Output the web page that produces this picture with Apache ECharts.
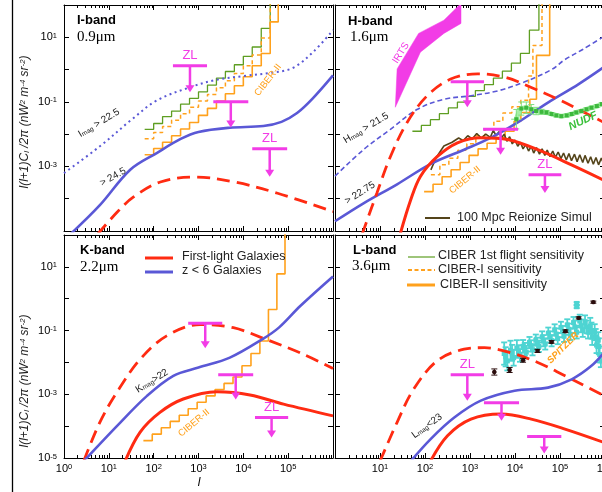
<!DOCTYPE html>
<html><head><meta charset="utf-8">
<script src="https://cdn.jsdelivr.net/npm/echarts/dist/echarts.min.js"></script>
<style>html,body{margin:0;padding:0;background:#fff;overflow:hidden}#c{width:602px;height:492px}</style>
</head><body><div id="c"></div><script>
// ---------------- DATA (x = multipole l, y = l(l+1)C_l/2pi) ----------------
// I-band 0.9um
const iZ6Shallow = [[1,6.2e-4],[6.3,4.2e-3],[32,2.8e-2],[117,0.11],[630,0.28],[2500,0.48],[1e4,0.63],[4.0e4,0.79],[1.26e5,1.12],[3.6e5,3.5],[1e6,16.6]];
const iZ6Deep = [[1.4,8e-6],[6.3,6.3e-5],[30,7.9e-4],[117,2.6e-3],[400,7.1e-3],[1000,1.17e-2],[5000,1.58e-2],[2.8e4,1.78e-2],[7.1e4,2.4e-2],[1.58e5,4.5e-2],[3.5e5,0.126],[1e6,0.66]];
const iFirstLightDashed = [[5.6,7.9e-6],[15.8,4e-5],[35,1.12e-4],[141,3.3e-4],[800,4.7e-4],[6300,3.3e-4],[5.8e4,1.48e-4],[1e6,4e-5]];
const iCiber1st = [[63,1.41e-2],[100,2.14e-2],[158,3.5e-2],[251,5.2e-2],[398,8.5e-2],[631,0.129],[1000,0.204],[1585,0.33],[2512,0.54],[3981,0.87],[6310,1.41],[1e4,2.57],[1.58e4,5.0],[2.51e4,19],[3.98e4,1e3]];
const iCiberI = [[63,7.2e-3],[100,1.12e-2],[158,1.74e-2],[251,2.7e-2],[398,4.3e-2],[631,6.8e-2],[1000,0.107],[1585,0.17],[2512,0.275],[3981,0.447],[6310,0.76],[1e4,1.32],[1.58e4,2.82],[2.51e4,9.5],[3.98e4,1e3]];
const iCiberII = [[63,2.3e-3],[100,3.6e-3],[158,5.6e-3],[251,8.9e-3],[398,1.45e-2],[631,2.3e-2],[1000,3.8e-2],[1585,6.3e-2],[2512,0.105],[3981,0.178],[6310,0.316],[1e4,0.6],[1.58e4,1.32],[2.51e4,3.16],[3.98e4,30],[6.0e4,1e3]];
// ZL limits: [l_left, level, l_right, arrow_end, show_label]
const iZL = [[269,1.32,1549,0.2,1],[2138,0.1,1.29e4,1.62e-2,0],[1.58e4,3.5e-3,9.5e4,4.8e-4,1]];

// H-band 1.6um
const hZ6Shallow = [[1,5e-4],[4.3,3.3e-3],[17,1.41e-2],[68,5.9e-2],[263,0.12],[1050,0.155],[4200,0.22],[1.6e4,0.41],[6.5e4,1.0],[1.26e5,2.0],[3.2e5,4.2],[1e6,11.2]];
const hZ6Deep = [[1,2.0e-5],[4.3,7.2e-5],[24,2.8e-4],[135,1.2e-3],[740,3.3e-3],[2950,7.8e-3],[1.15e4,2.3e-2],[5.4e4,9.5e-2],[2.6e5,0.355],[1e6,1.26]];
const hFirstLightDashed = [[4.0,7.9e-6],[8.5,1.48e-4],[17,2.0e-3],[40,2.3e-2],[112,0.155],[372,0.51],[1480,0.74],[5900,0.58],[2.3e4,0.28],[9.1e4,0.12],[3.5e5,4.7e-2],[1e6,2.2e-2]];
const hFirstLight = [[28,7.9e-6],[48,9.1e-5],[79,4.9e-4],[186,2.0e-3],[525,5.4e-3],[1740,7.8e-3],[6900,6.8e-3],[3.2e4,3.3e-3],[1.8e5,1.12e-3],[1e6,3.6e-4]];
const hCiber1st = [[52.5,1.23e-2],[83,1.86e-2],[132,2.8e-2],[209,4.3e-2],[331,6.5e-2],[525,9.8e-2],[832,0.148],[1318,0.224],[2089,0.34],[3311,0.54],[5248,0.89],[8318,1.58],[1.32e4,3.16],[2.09e4,16.6],[3.4e4,1e3]];
const hCiberI = [[135,5.5e-4],[214,1.12e-3],[339,1.78e-3],[537,3.16e-3],[851,5.0e-3],[1349,8.9e-3],[2138,1.41e-2],[3388,2.5e-2],[5370,4.5e-2],[8511,7.1e-2],[1.35e4,0.112],[2.0e4,0.63],[2.5e4,5.6],[3.98e4,1e3]];
const hCiberII = [[95.5,1.66e-4],[151,2.8e-4],[240,4.8e-4],[380,7.9e-4],[603,1.32e-3],[955,2.2e-3],[1514,3.5e-3],[2399,5.2e-3],[3802,7.9e-3],[6026,1.23e-2],[9550,2.5e-2],[1.35e4,4.7e-2],[2.14e4,0.12],[3.0e4,2.75],[5.9e4,1e3]];
const hReionSim = [[135,7.8e-4],[178,1.9e-3],[263,4.3e-3],[400,5.6e-3],[560,7.6e-3],[710,6.3e-3],[890,8.9e-3],[1120,7.1e-3],[1410,1.05e-2],[1780,7.6e-3],[2240,1.0e-2],[2820,7.9e-3],[3300,1.32e-2],[3800,8.9e-3],[4400,1.2e-2],[5000,7.6e-3],[5750,1.0e-2],[6600,6.0e-3],[7600,8.3e-3],[8700,5.0e-3],[1.0e4,6.6e-3],[1.15e4,4.2e-3],[1.32e4,5.6e-3],[1.51e4,3.5e-3],[1.74e4,4.8e-3],[2.0e4,3.0e-3],[2.3e4,4.2e-3],[2.6e4,2.6e-3],[3.0e4,3.8e-3],[3.5e4,2.4e-3],[4.0e4,3.5e-3],[4.6e4,2.2e-3],[5.2e4,3.2e-3],[6.0e4,2.0e-3],[6.9e4,3.0e-3],[7.9e4,1.9e-3],[9.1e4,2.8e-3],[1.05e5,1.74e-3],[1.2e5,2.6e-3],[1.38e5,1.58e-3],[1.58e5,2.5e-3],[1.8e5,1.5e-3],[2.1e5,2.4e-3],[2.4e5,1.41e-3],[2.75e5,2.3e-3],[3.2e5,1.32e-3],[3.6e5,2.2e-3],[4.2e5,1.26e-3],[4.8e5,2.0e-3],[5.5e5,1.17e-3],[6.3e5,1.9e-3],[7.2e5,1.12e-3],[8.3e5,1.82e-3],[9.5e5,1.1e-3]];
const hIRTS = [[21.9,6.8e-2],[24,1.05],[72,13.2],[263,33.9],[631,112],[631,26.9],[263,13.2],[79,3.47]];
// NUDF: [l, value, y error factor, l error factor]
const hNUDF = [[1.07e4,2.9e-2,2.0,1.3],[1.38e4,6.2e-2,1.6,1.25],[1.78e4,6.6e-2,1.5,1.2],[2.3e4,5.9e-2,1.4,1.15],[2.95e4,5.2e-2,1.3,1.12],[3.9e4,4.9e-2,1.2,1.1],[5.0e4,4.7e-2,1.15,1.08],[6.5e4,4.2e-2,1.1,1.06],[8.3e4,3.8e-2,1.1,1.06],[1.07e5,3.6e-2,1.1,1.06],[1.41e5,3.8e-2,1.1,1.06],[1.82e5,4.2e-2,1.1,1.06],[2.3e5,4.7e-2,1.1,1.06],[3.0e5,5.2e-2,1.1,1.06],[3.9e5,5.9e-2,1.1,1.06],[5.0e5,6.6e-2,1.1,1.06],[6.6e5,7.4e-2,1.1,1.06],[8.5e5,8.5e-2,1.1,1.06]];
const hZL = [[372,0.417,2042,6.8e-2,0],[1950,1.41e-2,1.17e4,2.3e-3,0],[2.0e4,5.5e-4,1.07e5,1.5e-4,1]];

// K-band 2.2um
const kFirstLightDashed = [[2.75,7.9e-6],[6.3,1.32e-4],[15.1,1.15e-3],[50,1.26e-2],[195,6.8e-2],[1100,0.155],[6000,0.123],[3.3e4,5.2e-2],[1.86e5,2.0e-2],[1e6,6.5e-3]];
const kZ6 = [[2.75,7.9e-6],[15.1,1.0e-4],[71,8.9e-4],[275,3.8e-3],[1000,6.9e-3],[5000,1.41e-2],[2.8e4,5.6e-2],[6.3e4,0.126],[1.86e5,0.59],[1e6,5.0]];
const kFirstLight = [[23,7.9e-6],[50,6.5e-5],[138,2.7e-4],[457,7.1e-4],[2570,1.2e-3],[1.41e4,9.5e-4],[7.9e4,4.9e-4],[1e6,2.1e-4]];
const kCiberII = [[59,3.5e-5],[93,5.6e-5],[148,8.9e-5],[234,1.41e-4],[372,2.2e-4],[589,3.5e-4],[933,5.6e-4],[1479,8.9e-4],[2344,1.41e-3],[3715,2.2e-3],[5888,3.5e-3],[9333,7.9e-3],[1.48e4,1.9e-2],[2.34e4,4.7e-2],[3.63e4,0.457],[5.6e4,6.0],[8.5e4,1e3]];
const kZL = [[589,0.17,3388,2.8e-2,0],[2754,4.1e-3,1.66e4,6.8e-4,0],[1.82e4,1.86e-4,1e5,4.4e-5,1]];

// L-band 3.6um
const lFirstLightDashed = [[10,7.9e-6],[24,1.32e-4],[56,1.45e-3],[186,1.12e-2],[740,2.6e-2],[2090,2.9e-2],[8100,2.0e-2],[3.2e4,1.0e-2],[1.29e5,3.8e-3],[5.0e5,1.45e-3],[1e6,8.7e-4]];
const lZ6 = [[48,7.9e-6],[135,4.0e-5],[447,1.86e-4],[1740,6.3e-4],[9800,1.29e-3],[5.4e4,1.62e-3],[1.82e5,2.95e-3],[5.0e5,7.8e-3],[1e6,2.2e-2]];
const lFirstLight = [[132,7.9e-6],[316,5.0e-5],[1050,1.66e-4],[4900,2.4e-4],[2.3e4,1.66e-4],[1.29e5,8.1e-5],[1e6,3.0e-5]];
// Spitzer fluctuations: [l, value, error factor]
const lSpitzer = [[5750,1.9e-2,2.24],[6200,1.5e-2,2.0],[6760,1.12e-2,2.0],[7940,2.4e-2,2.0],[8600,2.0e-2,1.78],[9330,1.41e-2,1.78],[1.1e4,2.8e-2,1.78],[1.2e4,2.2e-2,1.58],[1.29e4,1.66e-2,1.58],[1.51e4,3.2e-2,1.58],[1.65e4,2.6e-2,1.58],[1.78e4,2.1e-2,1.58],[2.1e4,4.2e-2,1.5],[2.25e4,3.3e-2,1.5],[2.45e4,2.5e-2,1.5],[2.9e4,5.0e-2,1.5],[3.1e4,4.0e-2,1.5],[3.4e4,3.2e-2,1.5],[4.0e4,6.3e-2,1.5],[4.3e4,4.8e-2,1.5],[4.7e4,3.8e-2,1.5],[5.5e4,8.3e-2,1.5],[6.0e4,6.3e-2,1.5],[6.5e4,4.8e-2,1.5],[7.6e4,0.105,1.5],[8.2e4,7.8e-2,1.5],[8.9e4,5.6e-2,1.5],[1.05e5,0.126,1.5],[1.14e5,9.3e-2,1.5],[1.23e5,6.6e-2,1.5],[1.45e5,0.151,1.5],[1.57e5,0.11,1.5],[1.7e5,7.6e-2,1.5],[2.0e5,0.178,1.5],[2.15e5,0.13,1.58],[2.35e5,8.9e-2,1.58],[2.75e5,0.2,1.58],[2.95e5,0.14,1.58],[3.2e5,0.1,1.58],[3.6e5,0.19,1.58],[3.9e5,0.13,1.58],[4.2e5,8.9e-2,1.58],[4.7e5,0.141,1.78],[5.0e5,0.1,1.78],[5.2e5,6.3e-2,1.78],[5.9e5,8.9e-2,1.78],[6.2e5,6.3e-2,1.78],[6.5e5,3.5e-2,1.78],[7.1e5,5.0e-2,1.78],[7.3e5,3.2e-2,1.78],[7.6e5,1.78e-2,1.78],[8.1e5,1.12e-2,1.58],[2.35e5,0.71,1.1],[2.35e5,0.56,1.1]];
// black measured points: [l, value, error factor, l error factor]
const lPoints = [[3470,5.0e-3,1.25,1.12],[7590,5.8e-3,1.2,1.12],[1.51e4,1.17e-2,1.15,1.12],[3.16e4,2.3e-2,1.12,1.12],[6.5e4,4.4e-2,1.1,1.12],[1.32e5,9.5e-2,1.1,1.12],[2.6e5,0.25,1.08,1.12],[5.5e5,0.78,1.08,1.12]];
const lZL = [[372,4.1e-3,2042,6.3e-4,1],[2042,5.4e-4,1.23e4,1.48e-4,0],[1.86e4,4.7e-5,1.07e5,1.38e-5,0]];

// tick labels (exponents shown)
const xLabelExps = [[], [], [0,1,2,3,4,5], [1,2,3,4,5,6]];
const yLabelExps = [[1,-1,-3], [], [1,-1,-3,-5], []];

// ---------------- STYLE ----------------
const MAG='#f23ce6', RED='#ff2b12', BLUE='#5a58d6', GREEN='#5e9e22', ORANGE='#ffa11c', BROWN='#54441a', CYAN='#4ed4d2';
const FONT='"Liberation Sans", Arial, sans-serif';
const grids=[
  {left:64, top:5, width:269, height:226},
  {left:335, top:5, width:270, height:226},
  {left:64, top:235, width:269, height:223},
  {left:335, top:235, width:270, height:223}
].map(g=>Object.assign(g,{containLabel:false,outerBoundsMode:'none'}));
const supRich={s:{fontSize:7.5, fontFamily:FONT, color:'#000', verticalAlign:'top', lineHeight:9}};
function fmt(exps){return v=>{const e=Math.round(Math.log10(v));return exps.indexOf(e)>=0?('10{s|'+e+'}'):'';};}
const xAxes=[], yAxes=[];
grids.forEach((g,i)=>{
  const axLine={show:true,onZero:false,lineStyle:{color:'#000',width:1}};
  const tick={show:true,inside:true,length:5,lineStyle:{color:'#000',width:1}};
  const base={type:'log',logBase:10,gridIndex:i,interval:1,axisLine:axLine,axisTick:tick,splitLine:{show:false},minorTick:{show:false}};
  xAxes.push(Object.assign({},base,{position:'bottom',min:1,max:1e6,
    axisLabel:{show:xLabelExps[i].length>0,formatter:fmt(xLabelExps[i]),margin:5,color:'#000',fontSize:11,fontFamily:FONT,rich:supRich,showMinLabel:true,showMaxLabel:true,hideOverlap:false}}));
  xAxes.push(Object.assign({},base,{position:'top',min:1,max:1e6,axisLabel:{show:false}}));
  yAxes.push(Object.assign({},base,{position:'left',min:1e-5,max:1e2,
    axisLabel:{show:yLabelExps[i].length>0,formatter:fmt(yLabelExps[i]),margin:7,color:'#000',fontSize:11,fontFamily:FONT,rich:supRich,showMinLabel:true,showMaxLabel:true,hideOverlap:false}}));
  yAxes.push(Object.assign({},base,{position:'right',min:1e-5,max:1e2,axisLabel:{show:false}}));
});

function line(g,data,color,width,type,opts){
  return Object.assign({type:'line',xAxisIndex:2*g,yAxisIndex:2*g,data:data,symbol:'none',showSymbol:false,smooth:0.35,
    lineStyle:{color:color,width:width,type:type||'solid',cap:'butt'},silent:true,animation:false,z:3,clip:true},opts||{});
}
function step(g,data,color,width,type){
  return {type:'line',xAxisIndex:2*g,yAxisIndex:2*g,data:data,step:'end',symbol:'none',showSymbol:false,
    lineStyle:{color:color,width:width,type:type||'solid'},silent:true,animation:false,z:2,clip:true};
}
function zl(g,data){
  return {type:'custom',xAxisIndex:2*g,yAxisIndex:2*g,data:data,encode:{x:0,y:1},clip:false,silent:true,animation:false,z:6,
    renderItem:function(params,api){
      const l1=api.value(0),y=api.value(1),l2=api.value(2),y2=api.value(3),lab=api.value(4);
      const a=api.coord([l1,y]),b=api.coord([l2,y]);
      const lc=Math.sqrt(l1*l2);
      const cx=api.coord([lc,y])[0], ey=api.coord([lc,y2])[1];
      const ch=[
        {type:'line',shape:{x1:a[0],y1:a[1],x2:b[0],y2:b[1]},style:{stroke:MAG,lineWidth:3}},
        {type:'line',shape:{x1:cx,y1:a[1],x2:cx,y2:ey-6},style:{stroke:MAG,lineWidth:2.5}},
        {type:'polygon',shape:{points:[[cx-4.5,ey-7],[cx+4.5,ey-7],[cx,ey]]},style:{fill:MAG}}
      ];
      if(lab) ch.push({type:'text',x:cx,y:a[1]-10,style:{text:'ZL',fill:MAG,font:'13px '+FONT,align:'center',verticalAlign:'middle'}});
      return {type:'group',children:ch};
    }};
}
function errs(g,data,o){
  return {type:'custom',xAxisIndex:2*g,yAxisIndex:2*g,data:data,encode:{x:0,y:1},clip:true,silent:true,animation:false,z:o.z||4,
    renderItem:function(params,api){
      const l=api.value(0),v=api.value(1),f=api.value(2),fx=api.value(3);
      const p=api.coord([l,v]),hi=api.coord([l,v*f]),lo=api.coord([l,v/f]);
      const st={stroke:o.bar,lineWidth:o.bw||1};
      const ch=[
        {type:'line',shape:{x1:p[0],y1:hi[1],x2:p[0],y2:lo[1]},style:st},
        {type:'line',shape:{x1:p[0]-o.cap,y1:hi[1],x2:p[0]+o.cap,y2:hi[1]},style:st},
        {type:'line',shape:{x1:p[0]-o.cap,y1:lo[1],x2:p[0]+o.cap,y2:lo[1]},style:st}
      ];
      if(fx>1){const A=api.coord([l/fx,v]),B=api.coord([l*fx,v]);ch.push({type:'line',shape:{x1:A[0],y1:A[1],x2:B[0],y2:B[1]},style:st});}
      if(o.shape==='circle') ch.push({type:'circle',shape:{cx:p[0],cy:p[1],r:o.size},style:{fill:o.fill}});
      else ch.push({type:'rect',shape:{x:p[0]-o.size,y:p[1]-o.size,width:2*o.size,height:2*o.size},style:{fill:o.fill}});
      return {type:'group',children:ch};
    }};
}
function poly(g,pts,color){
  return {type:'custom',xAxisIndex:2*g,yAxisIndex:2*g,data:[pts[0]],encode:{x:0,y:1},clip:true,silent:true,animation:false,z:5,
    renderItem:function(params,api){
      return {type:'polygon',shape:{points:pts.map(p=>api.coord(p))},style:{fill:color,stroke:color,lineWidth:0.5}};
    }};
}
// log minor ticks on top/bottom of each panel
const minorX=[];for(let d=0;d<6;d++)for(let k=2;k<=9;k++)minorX.push(k*Math.pow(10,d));
function minors(g){
  return {type:'custom',xAxisIndex:2*g,yAxisIndex:2*g,data:[[1,1e-5]],encode:{x:0,y:1},clip:false,silent:true,animation:false,z:1,
    renderItem:function(params,api){
      const cs=params.coordSys;const ch=[];
      minorX.forEach(v=>{const x=Math.round(api.coord([v,1])[0])+0.5;
        ch.push({type:'line',shape:{x1:x,y1:cs.y+cs.height,x2:x,y2:cs.y+cs.height-3},style:{stroke:'#000',lineWidth:1}});
        ch.push({type:'line',shape:{x1:x,y1:cs.y,x2:x,y2:cs.y+3},style:{stroke:'#000',lineWidth:1}});});
      return {type:'group',children:ch};
    }};
}

const series=[];
for(let g=0;g<4;g++) series.push(minors(g));
// I-band
series.push(step(0,iCiber1st,GREEN,1.3));
series.push(step(0,iCiberI,ORANGE,1.5,[4,3]));
series.push(step(0,iCiberII,ORANGE,1.6));
series.push(line(0,iZ6Shallow,BLUE,2,[2,3.5]));
series.push(line(0,iZ6Deep,BLUE,2.6));
series.push(line(0,iFirstLightDashed,RED,2.8,[13,7]));
series.push(zl(0,iZL));
// H-band
series.push(step(1,hCiber1st,GREEN,1.3));
series.push(step(1,hCiberI,ORANGE,1.5,[4,3]));
series.push(step(1,hCiberII,ORANGE,1.6));
series.push(line(1,hReionSim,BROWN,1.6,'solid',{smooth:false,z:3}));
series.push(line(1,hNUDF.map(d=>[d[0],d[1]]),'#a6eea6',5,'solid',{smooth:0.3,z:3}));
series.push(errs(1,hNUDF,{bar:'#7fe07f',cap:3,fill:'#3cb83c',size:2,z:4}));
series.push(line(1,hZ6Shallow,BLUE,1.6,[5,3]));
series.push(line(1,hZ6Deep,BLUE,2.6));
series.push(line(1,hFirstLightDashed,RED,2.8,[13,7]));
series.push(line(1,hFirstLight,RED,3));
series.push(poly(1,hIRTS,MAG));
series.push(zl(1,hZL));
// K-band
series.push(step(2,kCiberII,ORANGE,1.6));
series.push(line(2,kFirstLightDashed,RED,2.8,[13,7]));
series.push(line(2,kZ6,BLUE,2.6));
series.push(line(2,kFirstLight,RED,3));
series.push(zl(2,kZL));
// L-band
series.push(errs(3,lSpitzer,{bar:CYAN,cap:3,fill:CYAN,size:2.5,bw:1.8,z:3}));
series.push(line(3,lFirstLightDashed,RED,2.8,[13,7]));
series.push(line(3,lZ6,BLUE,2.6));
series.push(line(3,lFirstLight,RED,3));
series.push(errs(3,lPoints,{bar:'#2a0c0c',cap:3,fill:'#2a0c0c',size:2.2,shape:'circle',z:5}));
series.push(zl(3,lZL));

const D=Math.PI/180;
function txt(x,y,text,o){
  o=o||{};
  return {type:'text',x:x,y:y,rotation:(o.rot||0)*D,z:50,silent:true,
    style:{text:text,fill:o.color||'#222',font:(o.weight||'')+' '+(o.style||'')+' '+(o.size||10)+'px '+(o.family||FONT),
      align:o.align||'center',verticalAlign:'middle',
      rich:{sub:{fontSize:(o.size||10)*0.65,fontFamily:o.family||FONT,fill:o.color||'#222',fontStyle:o.style||'normal',verticalAlign:'bottom'},
            sup:{fontSize:(o.size||10)*0.65,fontFamily:o.family||FONT,fill:o.color||'#222',fontStyle:o.style||'normal',verticalAlign:'top'}}}};
}
function seg(x1,y1,x2,y2,color,w,dash){
  return {type:'line',z:50,silent:true,shape:{x1:x1,y1:y1,x2:x2,y2:y2},style:{stroke:color,lineWidth:w,lineDash:dash||null}};
}
const ytitle='l(l+1)C{sub|l} /2π (nW{sup|2} m{sup|-4} sr{sup|-2})';
const graphics=[
  seg(12.5,0,12.5,492,'#000',1.3),
  txt(25,122,ytitle,{rot:90,style:'italic',size:12}),
  txt(25,381,ytitle,{rot:90,style:'italic',size:12}),
  txt(199,483,'l',{style:'italic',size:12,color:'#000'}),
  // panel labels
  txt(77,20,'I-band',{weight:'bold',size:13,align:'left',color:'#000'}),
  txt(77,37,'0.9μm',{size:15,align:'left',family:'"Liberation Serif", serif',color:'#000'}),
  txt(348,21,'H-band',{weight:'bold',size:13,align:'left',color:'#000'}),
  txt(350,37,'1.6μm',{size:15,align:'left',family:'"Liberation Serif", serif',color:'#000'}),
  txt(80,250,'K-band',{weight:'bold',size:13,align:'left',color:'#000'}),
  txt(80,267,'2.2μm',{size:15,align:'left',family:'"Liberation Serif", serif',color:'#000'}),
  txt(353,250,'L-band',{weight:'bold',size:13,align:'left',color:'#000'}),
  txt(352,266,'3.6μm',{size:15,align:'left',family:'"Liberation Serif", serif',color:'#000'}),
  // curve labels
  txt(99,123,'I{sub|mag} > 22.5',{rot:31}),
  txt(113,177,'> 24.5',{rot:29}),
  txt(268,80,'CIBER-II',{rot:52,color:ORANGE,size:9.5}),
  txt(401,53,'IRTS',{rot:58,color:MAG,size:10}),
  txt(366,128,'H{sub|mag} > 21.5',{rot:31}),
  txt(360,193,'> 22.75',{rot:32}),
  txt(465,180,'CIBER-II',{rot:40,color:ORANGE,size:9.5}),
  txt(583,121,'NUDF',{rot:25,color:'#3cc03c',weight:'bold',style:'italic',size:11}),
  txt(152,381,'K{sub|mag}>22',{rot:32}),
  txt(194,423,'CIBER-II',{rot:40,color:ORANGE,size:9.5}),
  txt(563,348,'SPITZER',{rot:45,color:ORANGE,weight:'bold',style:'italic',size:9.5}),
  txt(427,426,'L{sub|mag}<23',{rot:36}),
  // legends
  seg(425,218,450,218,BROWN,2),
  txt(457,218,'100 Mpc Reionize Simul',{align:'left',size:12.5,color:'#222'}),
  seg(145,258,173,258,RED,3),
  txt(182,257,'First-light Galaxies',{align:'left',size:12.5,color:'#222'}),
  seg(145,272,173,272,BLUE,3),
  txt(182,271,'z < 6 Galaxies',{align:'left',size:12.5,color:'#222'}),
  seg(408,257,435,257,GREEN,1.2),
  txt(438,256,'CIBER 1st flight sensitivity',{align:'left',size:12.5,color:'#222'}),
  seg(408,270,435,270,ORANGE,2,[4,2.5]),
  txt(438,270,'CIBER-I sensitivity',{align:'left',size:12.5,color:'#222'}),
  seg(407,285,435,285,ORANGE,3),
  txt(440,285,'CIBER-II sensitivity',{align:'left',size:12.5,color:'#222'})
];

const chart=echarts.init(document.getElementById('c'),null,{renderer:'canvas'});
chart.setOption({animation:false,backgroundColor:'#fff',grid:grids,xAxis:xAxes,yAxis:yAxes,series:series,graphic:graphics});
</script></body></html>
